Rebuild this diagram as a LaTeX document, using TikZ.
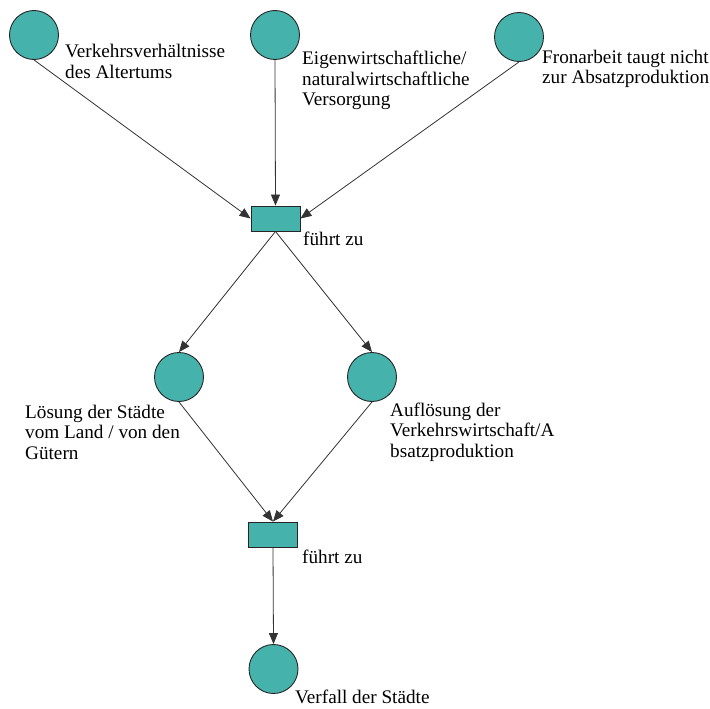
\documentclass[tikz,border=0pt]{standalone}
\usepackage{fontspec}
\setmainfont{Liberation Serif}
\usetikzlibrary{arrows.meta}
\definecolor{placefill}{RGB}{70,178,172}
\tikzset{
  place/.style={circle,draw=black!85,line width=0.9pt,fill=placefill,minimum size=49pt,inner sep=0pt},
  trans/.style={rectangle,draw=black!85,line width=0.9pt,fill=placefill,minimum width=49pt,minimum height=25pt,inner sep=0pt},
  lbl/.style={anchor=base west,inner sep=0pt,align=left,font=\fontsize{19.2}{20.5}\selectfont},
  arc/.style={draw=black!80,line width=0.8pt,-{Triangle[length=11pt,width=9pt]}}
}
\begin{document}
\begin{tikzpicture}[x=1pt,y=-1pt]
\useasboundingbox (0,0) rectangle (710,709);
\node[place] (c1) at (34,35) {};
\node[place] (c2) at (275,35) {};
\node[place] (c3) at (519,37) {};
\node[trans] (r1) at (275.5,218.5) {};
\node[place] (c4) at (179,377) {};
\node[place] (c5) at (372,377) {};
\node[trans] (r2) at (273,534.5) {};
\node[place] (c6) at (273.5,669) {};

% base anchor of a multi-line label is the baseline of its last line
\node[lbl] (t1) at (65,78) {Verkehrsverhältnisse\\des Altertums};
\node[lbl] (t2) at (302,106) {Eigenwirtschaftliche/\\naturalwirtschaftliche\\Versorgung};
\node[lbl] (t3) at (542,84) {Fronarbeit taugt nicht\\zur Absatzproduktion};
\node[lbl] (t4) at (303,245) {führt zu};
\node[lbl] (t5) at (25,459) {Lösung der Städte\\vom Land / von den\\Gütern};
\node[lbl] (t6) at (390,457) {Auflösung der\\Verkehrswirtschaft/A\\bsatzproduktion};
\node[lbl] (t7) at (302,563) {führt zu};
\node[lbl] (t8) at (295,703) {Verfall der Städte};

\draw[arc] (c1.south) -- (r1.west);
\draw[arc] (c2.south) -- (r1.north);
\draw[arc] (c3.south) -- (r1.east);
\draw[arc] (r1.south) -- (c4.north);
\draw[arc] (r1.south) -- (c5.north);
\draw[arc] (c4.south) -- (r2.north);
\draw[arc] (c5.south) -- (r2.north);
\draw[arc] (r2.south) -- (c6.north);
\end{tikzpicture}
\end{document}
